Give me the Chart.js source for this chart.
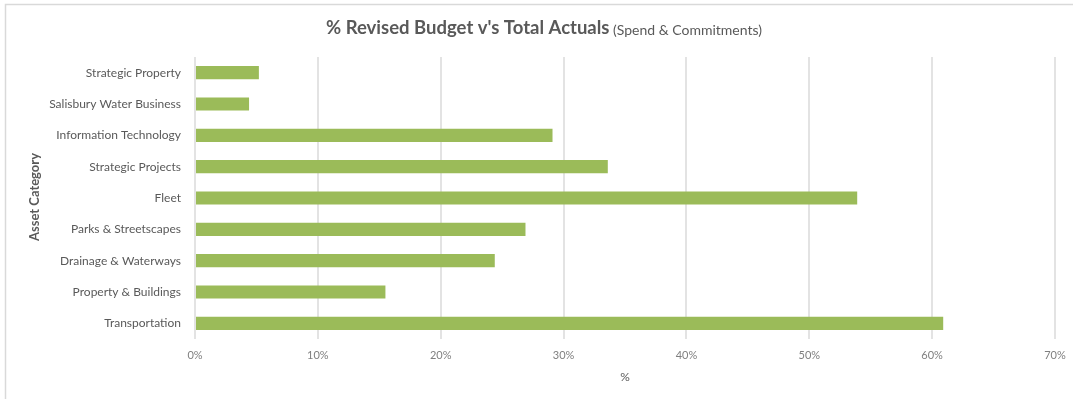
<!DOCTYPE html>
<html>
<head>
<meta charset="utf-8">
<script src="https://cdn.jsdelivr.net/npm/chart.js@4"></script>
<style>
html,body{margin:0;padding:0;background:#fff;}
#wrap{width:1073px;height:399px;position:relative;}
</style>
</head>
<body>
<div id="wrap"><canvas id="c" width="1073" height="399"></canvas></div>
<script>
const categories = ["Strategic Property","Salisbury Water Business","Information Technology","Strategic Projects","Fleet","Parks & Streetscapes","Drainage & Waterways","Property & Buildings","Transportation"];
const values = [5.2, 4.4, 29.1, 33.6, 53.9, 26.9, 24.4, 15.5, 60.9];
const xTicks = [0,10,20,30,40,50,60,70];
const titleMain = "% Revised Budget v's Total Actuals";
const titleSub = " (Spend & Commitments)";
const xTitle = "%";
const yTitle = "Asset Category";

const FONT = "Lato, 'Open Sans', sans-serif";

const decor = {
  id:'decor',
  beforeDraw(chart){
    const ctx = chart.ctx;
    ctx.save();
    ctx.strokeStyle = '#d9d9d9';
    ctx.lineWidth = 1.5;
    ctx.beginPath();
    ctx.moveTo(5.5, 399); ctx.lineTo(5.5, 4.5); ctx.lineTo(1073, 4.5);
    ctx.stroke();
    ctx.restore();
  },
  afterDraw(chart){
    const ctx = chart.ctx;
    ctx.save();
    ctx.textBaseline = 'middle';
    ctx.font = "bold 18.5px " + FONT;
    const w1 = ctx.measureText(titleMain).width;
    ctx.font = "14px " + FONT;
    const w2 = ctx.measureText(titleSub).width;
    const start = 544 - (w1 + w2) / 2;
    ctx.fillStyle = '#595959';
    ctx.textAlign = 'left';
    ctx.font = "bold 18.5px " + FONT;
    ctx.fillText(titleMain, start, 28);
    ctx.font = "14px " + FONT;
    ctx.fillText(titleSub, start + w1, 30);
    // x title
    ctx.textAlign = 'center';
    ctx.font = "12px " + FONT;
    ctx.fillText(xTitle, 625, 377);
    // y title
    ctx.translate(35, 197);
    ctx.rotate(-Math.PI/2);
    ctx.font = "bold 13px " + FONT;
    ctx.fillText(yTitle, 0, 0);
    ctx.restore();
  }
};

new Chart(document.getElementById('c'), {
  type: 'bar',
  data: {
    labels: categories,
    datasets: [{
      data: values,
      backgroundColor: '#9BBB59',
      borderWidth: 0,
      barPercentage: 0.84,
      categoryPercentage: 0.5
    }]
  },
  options: {
    indexAxis: 'y',
    responsive: false,
    animation: false,
    devicePixelRatio: 1,
    layout: { padding: { top: 57, right: 18, left: 0, bottom: 0 } },
    plugins: { legend: { display: false }, title: { display: false }, tooltip: { enabled: false } },
    scales: {
      x: {
        min: 0, max: 70,
        afterBuildTicks(scale){ scale.ticks = xTicks.map(v => ({value: v})); },
        afterFit(scale){ scale.height = 60; scale.paddingLeft = 0; scale.paddingRight = 0; },
        ticks: { callback: v => v + '%', color: '#7f7f7f', font: { family: FONT, size: 11 }, padding: 10, maxRotation: 0 },
        grid: { color: '#e3e3e3', lineWidth: 2, drawTicks: false },
        border: { display: false }
      },
      y: {
        afterFit(scale){ scale.width = 195; scale.paddingTop = 0; scale.paddingBottom = 0; },
        ticks: { color: '#595959', font: { family: FONT, size: 12 }, padding: 14 },
        grid: { display: false, drawTicks: false },
        border: { display: false }
      }
    }
  },
  plugins: [decor]
});
</script>
</body>
</html>
